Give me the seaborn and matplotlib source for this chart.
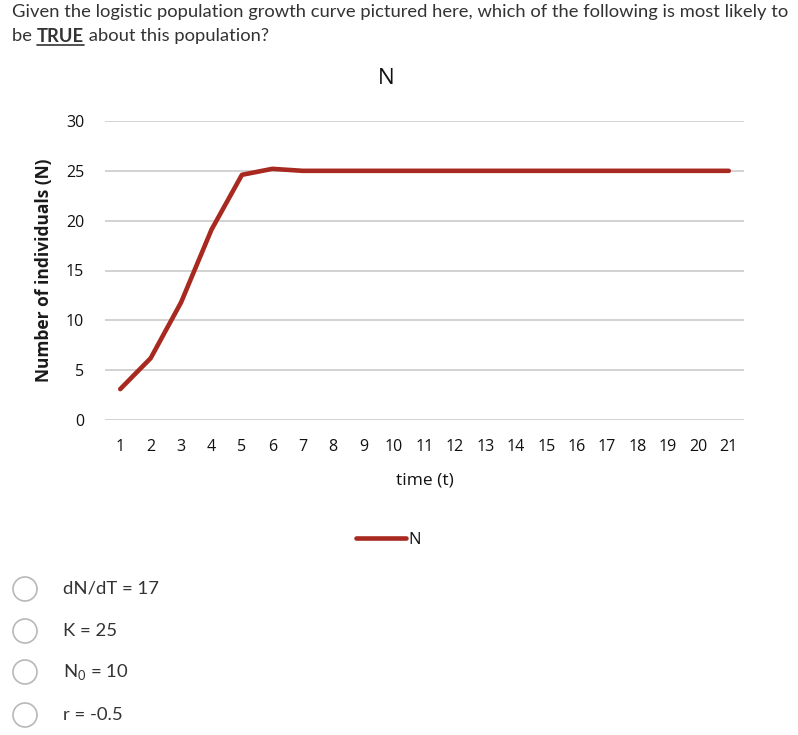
import matplotlib
matplotlib.use("Agg")
import matplotlib.pyplot as plt
import seaborn as sns
import pandas as pd
from matplotlib.patches import Circle
from matplotlib.lines import Line2D

# data
time_t = list(range(1, 22))
pop_n = [3.1, 6.2, 11.8, 19.1, 24.6, 25.2, 25.0, 25.0, 25.0, 25.0, 25.0,
         25.0, 25.0, 25.0, 25.0, 25.0, 25.0, 25.0, 25.0, 25.0, 25.0]
y_ticks = [0, 5, 10, 15, 20, 25, 30]
answers = ["dN/dT = 17", "K = 25", r"N$_{\mathregular{0}}$ = 10", "r = -0.5"]

q_line1 = "Given the logistic population growth curve pictured here, which of the following is most likely to"
q_line2 = ["be ", "TRUE", " about this population?"]

sns.set_style("white")
plt.rcParams["font.family"] = ["Open Sans", "DejaVu Sans"]
plt.rcParams["mathtext.fontset"] = "custom"
plt.rcParams["mathtext.rm"] = "Lato"

df = pd.DataFrame({"time": time_t, "N": pop_n})

fig = plt.figure(figsize=(7.98, 7.35), dpi=100)
ax = fig.add_axes([105 / 798, 1 - 420 / 735, 639 / 798, 299 / 735])

sns.lineplot(data=df, x="time", y="N", color="#a8291f", linewidth=3.3,
             solid_capstyle="round", label="N", ax=ax, legend=False)

ax.set_xlim(0.5, 21.5)
ax.set_ylim(0, 30)
ax.set_xticks(time_t)
ax.set_yticks(y_ticks)
ax.grid(axis="y", color="#cfcfcf", linewidth=1.3)
ax.set_axisbelow(True)
for s in ax.spines.values():
    s.set_visible(False)
ax.tick_params(axis="both", length=0, labelsize=11.5, colors="#111111")
ax.tick_params(axis="x", pad=14)
ax.tick_params(axis="y", pad=15)
ax.set_xlabel("time (t)", fontsize=12.5, color="#111111", labelpad=12)
ax.set_ylabel("Number of individuals (N)", fontsize=12.5, fontweight="bold",
              color="#1a1a1a", labelpad=9)
ax.set_title("N", fontsize=16, color="#111111", pad=27, x=0.44)

leg = ax.legend(loc="center", bbox_to_anchor=(388 / 798, 1 - 540 / 735),
                bbox_transform=fig.transFigure, frameon=False,
                prop={"size": 12},
                handlelength=3.0, handletextpad=0.15)
for t in leg.get_texts():
    t.set_color("#111111")

# question text
qfont = dict(fontsize=13.2, color="#333333", family=["Lato", "DejaVu Sans"])
fig.text(12 / 798, 1 - 12 / 735, q_line1, ha="left", va="center", **qfont)
fig.canvas.draw()
renderer = fig.canvas.get_renderer()
x = 12
y2 = 735 - 36
for part in q_line2:
    w = "bold" if part == "TRUE" else "normal"
    txt = fig.text(x / 798, y2 / 735, part, ha="left", va="center", fontweight=w, **qfont)
    bb = txt.get_window_extent(renderer)
    if part == "TRUE":
        fig.add_artist(Line2D([bb.x0, bb.x1], [y2 - 8.5, y2 - 8.5], transform=None,
                              color="#333333", linewidth=1.2))
    x = bb.x1

# answer options
ys = [589, 631, 672, 715]
for y, a in zip(ys, answers):
    circ = Circle((25, 735 - y), 12, transform=None, facecolor="white",
                  edgecolor="#b8b8b8", linewidth=1.2)
    fig.patches.append(circ)
    fig.text(63 / 798, 1 - y / 735, a, ha="left", va="center", fontsize=13.3,
             color="#333333", family=["Lato", "DejaVu Sans"])

fig.savefig("out.png", dpi=100)
